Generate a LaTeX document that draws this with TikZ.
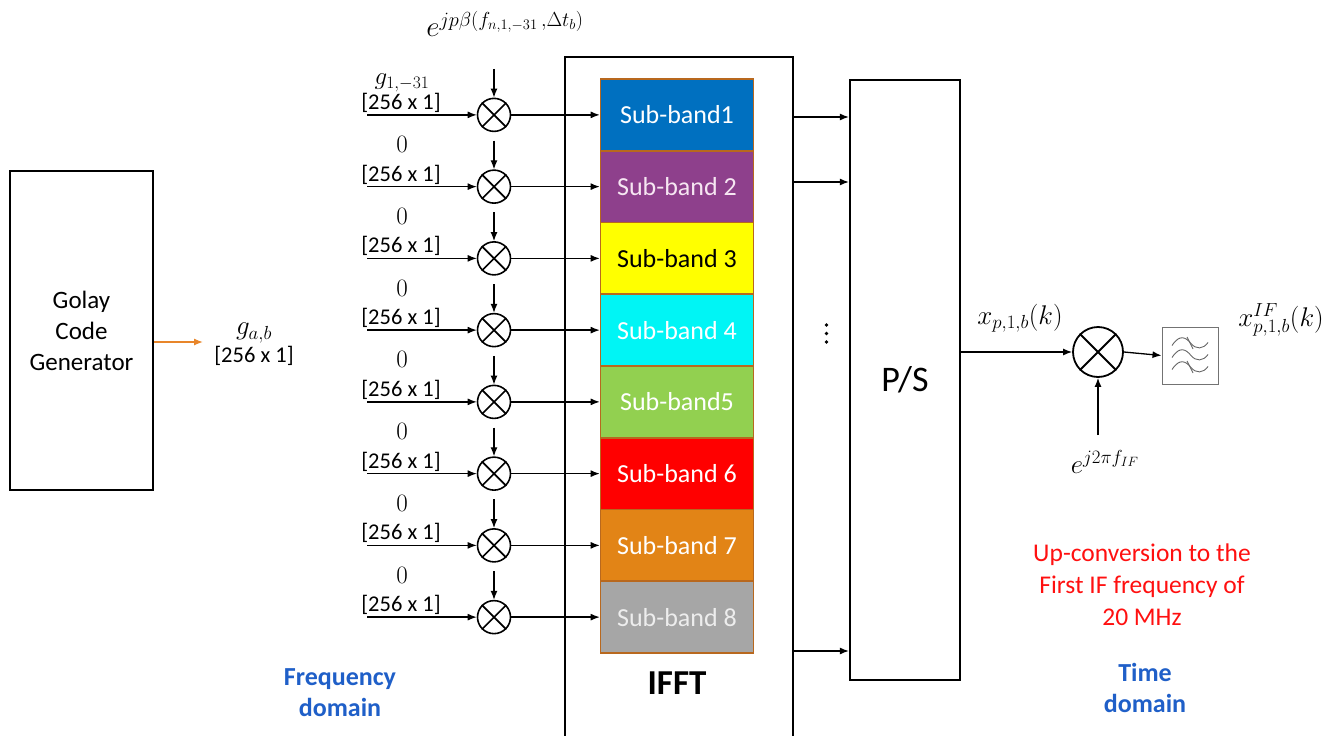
\documentclass[tikz,border=0pt]{standalone}
\usepackage{fix-cm}
\usepackage[no-math]{fontspec}
\setmainfont{Carlito}
\usetikzlibrary{arrows.meta}
\definecolor{sbedge}{HTML}{B8681E}
\definecolor{sbA}{HTML}{0070C0}
\definecolor{sbB}{HTML}{8E408C}
\definecolor{sbC}{HTML}{FFFF00}
\definecolor{sbD}{HTML}{00F5F5}
\definecolor{sbE}{HTML}{92D050}
\definecolor{sbF}{HTML}{FF0000}
\definecolor{sbG}{HTML}{E28416}
\definecolor{sbH}{HTML}{A6A6A6}
\definecolor{txH}{HTML}{EDEDED}
\definecolor{txB}{HTML}{F6E6F2}
\definecolor{gorange}{HTML}{E8862A}
\definecolor{dblue}{HTML}{1F5FC8}
\definecolor{upred}{HTML}{FF1010}
\begin{document}
\begin{tikzpicture}[x=1pt,y=-1pt,
  blk/.style={draw, line width=2.2pt, inner sep=0pt},
  sbbox/.style={draw=sbedge, line width=1.6pt, minimum width=153pt, minimum height=71.75pt, inner sep=0pt, font=\fontsize{26}{30}\selectfont},
  mix/.style={circle, draw, line width=1.6pt, minimum size=33pt, inner sep=0pt},
  arr/.style={-{Latex[length=9pt,width=7pt]}, line width=1.3pt},
  lbl/.style={font=\fontsize{22.5}{26}\selectfont, inner sep=0pt},
  mlbl/.style={font=\fontsize{27}{30}\selectfont, inner sep=0pt},
  domlbl/.style={font=\fontsize{26}{31}\selectfont\bfseries, text=dblue, align=center, inner sep=0pt}
]
\useasboundingbox (0,0) rectangle (1341,736);

% Golay code generator
\node[blk, minimum width=143pt, minimum height=319pt, align=center,
  font=\fontsize{25}{31}\selectfont] (golay) at (81.5,330.5) {Golay\\Code\\Generator};
\coordinate (gend) at (203,342);
\draw[-{Latex[length=9pt,width=7pt]}, line width=1.3pt, gorange] (golay.east |- gend) -- (gend);
\node[mlbl] (gab) at (254,333) {$g_{a,b}$};
\node[lbl] (gabdim) at (254,356) {[256 x 1]};

% IFFT block, open at the bottom
\draw[line width=2pt] (565,760) -- (565,57) -- (793,57) -- (793,760);
\node[font=\fontsize{35}{38}\selectfont\bfseries] (ifft) at (677,683) {IFFT};

% phase rotation term
\node[font=\fontsize{29}{32}\selectfont, inner sep=0pt] (phase) at (505,24) {$e^{jp\beta(f_{n,1,-31}\,,\Delta t_b)}$};

% sub-band rows
\foreach \i/\fc/\tc/\txt/\inp/\off in {
  1/sbA/white/Sub-band1/{$g_{1,-31}$}/32,
  2/sbB/txB/Sub-band 2/{$0$}/42,
  3/sbC/black/Sub-band 3/{$0$}/42,
  4/sbD/white/Sub-band 4/{$0$}/42,
  5/sbE/white/Sub-band5/{$0$}/42,
  6/sbF/white/Sub-band 6/{$0$}/42,
  7/sbG/white/Sub-band 7/{$0$}/42,
  8/sbH/txH/Sub-band 8/{$0$}/42}{
  \pgfmathsetmacro{\yy}{79+71.75*(\i-0.5)}
  \node[sbbox, fill=\fc, text=\tc] (sb\i) at (677,\yy) {\txt};
  \node[mix] (mx\i) at (494,\yy) {};
  \draw[line width=1.6pt] (mx\i.45) -- (mx\i.225) (mx\i.135) -- (mx\i.315);
  \coordinate (in\i) at (367,\yy);
  \coordinate (tp\i) at (494,\yy-46);
  \draw[arr] (in\i) -- (mx\i.west);
  \draw[arr] (tp\i) -- (mx\i.north);
  \draw[arr] (mx\i.east) -- (sb\i.west);
  \node[lbl] (dim\i) at (401,\yy-12) {[256 x 1]};
  \node[font=\fontsize{25}{28}\selectfont, inner sep=0pt] (val\i) at (402,\yy-\off) {\inp};
}

% parallel-to-serial converter
\node[blk, minimum width=110pt, minimum height=600pt, font=\fontsize{36}{40}\selectfont] (ps) at (905,380) {P/S};
\coordinate (oa) at (793,117);
\coordinate (ob) at (793,182);
\coordinate (oc) at (793,651);
\draw[arr] (oa) -- (oa -| ps.west);
\draw[arr] (ob) -- (ob -| ps.west);
\draw[arr] (oc) -- (oc -| ps.west);
\foreach \d in {325,333.5,342} \fill (826.5,\d) circle (1.8pt);

% IF up-conversion
\node[circle, draw, line width=1.8pt, minimum size=50pt, inner sep=0pt] (mxif) at (1098,352) {};
\draw[line width=1.8pt] (mxif.45) -- (mxif.225) (mxif.135) -- (mxif.315);
\draw[arr] (ps.east |- mxif) -- (mxif.west);
\node[draw=black!55, line width=1pt, minimum width=56pt, minimum height=57pt, inner sep=0pt] (flt) at (1190,355.5) {};
\draw[arr] (mxif.east) -- (flt.west);
\coordinate (lo) at (1098,435);
\draw[arr] (lo) -- (mxif.south);
\foreach \dy in {-12,0,12}{
  \draw[black!60, line width=0.9pt] (1172,355.5+\dy+2) .. controls (1180,355.5+\dy-10) and (1186,355.5+\dy-6) .. (1191,355.5+\dy)
     .. controls (1196,355.5+\dy+6) and (1203,355.5+\dy+6) .. (1208,355.5+\dy-1);
}
\draw[black!60, line width=0.9pt] (1187,337) -- (1193,349);
\draw[black!60, line width=0.9pt] (1187,361) -- (1193,373);

\node[mlbl] (xpb) at (1020,318) {$x_{p,1,b}(k)$};
\node[mlbl] (xif) at (1281,320) {$x^{IF}_{p,1,b}(k)$};
\node[mlbl] (lotxt) at (1105,462) {$e^{j2\pi f_{IF}}$};

% annotations
\node[font=\fontsize{25.5}{32}\selectfont, text=upred, align=center, inner sep=0pt] (upc) at (1142,585)
  {Up-conversion to the\\First IF frequency of\\20 MHz};
\node[domlbl] (tdom) at (1145,688) {Time\\domain};
\node[domlbl] (fdom) at (340,693) {Frequency\\domain};
\end{tikzpicture}
\end{document}
